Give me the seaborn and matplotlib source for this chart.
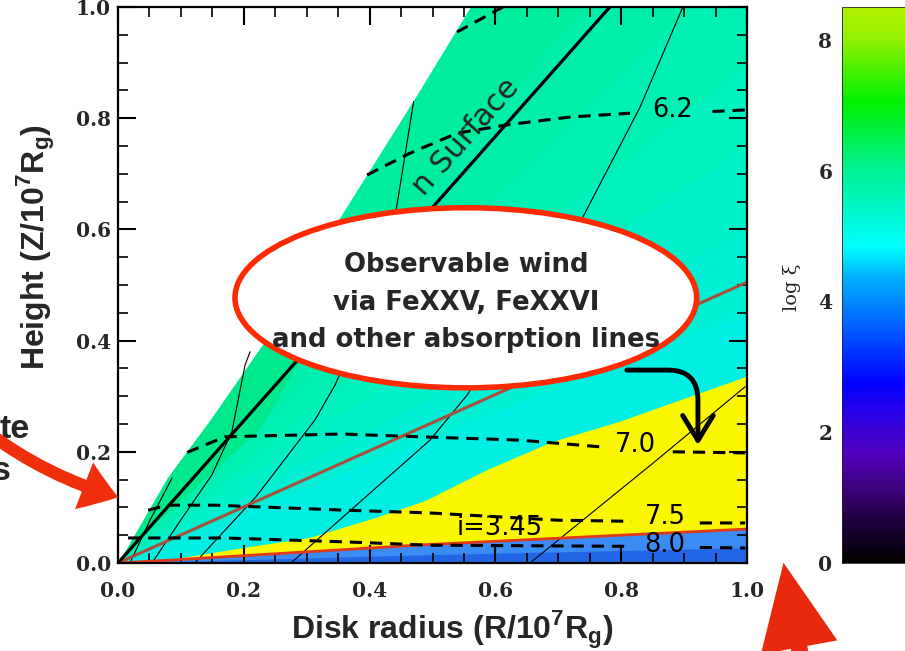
import numpy as np
import matplotlib
matplotlib.use("Agg")
import matplotlib.pyplot as plt
import seaborn as sns
from matplotlib.patches import Ellipse, FancyArrowPatch
from matplotlib.colors import LinearSegmentedColormap, Normalize
from matplotlib.ticker import MultipleLocator
import matplotlib.cm as cm

# ------------------------------------------------------------------ data
x_ticks = [0.0, 0.2, 0.4, 0.6, 0.8, 1.0]
x_tick_labels = ["0.0", "0.2", "0.4", "0.6", "0.8", "1.0"]
y_ticks = [0.0, 0.2, 0.4, 0.6, 0.8, 1.0]
y_tick_labels = ["0.0", "0.2", "0.4", "0.6", "0.8", "1.0"]
cbar_ticks = [0, 2, 4, 6, 8]
cbar_tick_labels = ["0", "2", "4", "6", "8"]
cbar_range = (0.0, 8.5)

# colour table (log xi value -> colour)
cmap_values = [0.0, 0.66, 1.16, 1.68, 2.19, 2.75, 3.76, 4.37, 4.83, 6.05, 7.07, 7.6, 8.0, 8.5]
cmap_colors = ["#000000", "#200040", "#400080", "#5000c0", "#3000e0", "#0000ff",
               "#0070ff", "#00b0ff", "#00ffff", "#00f090", "#00f000", "#50f000",
               "#90f000", "#b0f000"]

# inner boundary of the wind (white above)
edge_R = [0.0, 0.078, 0.146, 0.229, 0.353, 0.48, 0.56]
edge_Z = [0.0, 0.153, 0.257, 0.392, 0.622, 0.851, 1.0]

# angular bands of log xi (slopes Z/R of band borders)
band_slopes = [3.0, 1.35, 1.1, 0.9, 0.75, 0.6, 0.45]
band_colors = ["#00ed9e", "#00eea8", "#00efb2", "#00f0be", "#00f0ca", "#00f0d6", "#00efe2"]

# greener zone along the lower wind boundary
green_R = [0.0, 0.05, 0.226, 0.30, 0.36, 0.353, 0.229, 0.146, 0.078]
green_Z = [0.0, 0.06, 0.24, 0.383, 0.55, 0.622, 0.392, 0.257, 0.153]

# yellow highlighted region (upper border) and disk-surface red line
yellow_R = [0.08, 0.2, 0.305, 0.41, 0.49, 0.587, 0.692, 0.798, 0.905, 1.0]
yellow_Z = [0.005, 0.027, 0.045, 0.081, 0.112, 0.167, 0.218, 0.254, 0.297, 0.335]
red_R = [0.0, 0.08, 0.49, 1.0]
red_Z = [0.0, 0.005, 0.033, 0.061]

# lines
thick_R = [0.0, 0.782]
thick_Z = [0.0, 1.0]
brown_R = [0.0, 1.0]
brown_Z = [0.0, 0.505]

field_lines = [
    ([0.019, 0.05, 0.086], [0.0, 0.075, 0.153]),
    ([0.054, 0.102, 0.149, 0.181, 0.202, 0.21], [0.0, 0.081, 0.158, 0.236, 0.356, 0.38]),
    ([0.122, 0.22, 0.313, 0.345, 0.40, 0.443, 0.47], [0.0, 0.12, 0.257, 0.32, 0.46, 0.64, 0.83]),
    ([0.275, 0.496, 0.555, 0.739, 0.83, 0.898], [0.0, 0.221, 0.302, 0.622, 0.82, 1.0]),
    ([0.655, 0.851, 0.997], [0.0, 0.18, 0.317]),
]

nan = np.nan
dens_lines = [
    ([0.539, 0.612], [0.955, 1.0]),
    ([0.396, 0.464, 0.539, 0.618, 0.718, 0.814, nan, 0.945, 1.0],
     [0.698, 0.737, 0.773, 0.788, 0.802, 0.809, nan, 0.812, 0.815]),
    ([0.110, 0.170, 0.356, 0.480, 0.639, 0.766, nan, 0.882, 0.997],
     [0.199, 0.227, 0.232, 0.227, 0.221, 0.209, nan, 0.200, 0.198]),
    ([0.048, 0.078, 0.154, 0.361, 0.496, 0.699, 0.816, nan, 0.925, 0.997],
     [0.095, 0.104, 0.104, 0.095, 0.090, 0.077, 0.075, nan, 0.072, 0.072]),
    ([0.016, 0.17, 0.361, 0.496, 0.81, nan, 0.925, 0.997],
     [0.045, 0.045, 0.038, 0.032, 0.030, nan, 0.028, 0.027]),
]
dens_labels = ["6.2", "7.0", "7.5", "8.0", "i=3.45"]
dens_label_R = [0.881, 0.822, 0.870, 0.870, 0.607]
dens_label_Z = [0.815, 0.212, 0.083, 0.032, 0.063]

surface_label = "n Surface"   # visible part of the label, rest is hidden by the bubble
bubble_lines = ["Observable wind", "via FeXXV, FeXXVI", "and other absorption lines"]

# ------------------------------------------------------------------ style
sns.set_style("ticks")
plt.rcParams["font.family"] = ["DejaVu Sans"]
plt.rcParams["mathtext.fontset"] = "custom"
plt.rcParams["mathtext.bf"] = "Liberation Sans:bold"
plt.rcParams["mathtext.rm"] = "Liberation Sans:bold"

W, H = 905, 651
fig = plt.figure(figsize=(W / 100, H / 100), dpi=100)
ax = fig.add_axes([118 / W, 88 / H, 629 / W, 556 / H])
ax.set_xlim(0, 1)
ax.set_ylim(0, 1)

# colour bands (painted from the steepest down so no seams appear)
R2 = np.array([0.0, 1.0])
for s, c in zip(band_slopes, band_colors):
    ax.fill_between(R2, 0, s * R2, color=c, lw=0, zorder=1)
ax.fill(green_R, green_Z, color="#00e88c", lw=0, zorder=1.05)
# white region above the wind boundary
ax.fill_betweenx(edge_Z, 0, edge_R, color="white", lw=0, zorder=1.1)
# yellow region
ax.fill(np.r_[yellow_R, red_R[::-1]], np.r_[yellow_Z, red_Z[::-1]],
        color="#fbf700", lw=0, zorder=1.2)
# blue region under the red line
ax.fill_between(red_R, 0, red_Z, color="#3a8cf4", lw=0, zorder=1.3)
ax.fill_between(red_R, 0, np.array(red_Z) * 0.45, color="#2266e6", lw=0, zorder=1.31)

# field lines
for R, Z in field_lines:
    sns.lineplot(x=R, y=Z, sort=False, estimator=None, ax=ax, color="black",
                 lw=0.8, zorder=3)
sns.lineplot(x=brown_R, y=brown_Z, sort=False, estimator=None, ax=ax,
             color="#a9503c", lw=2.2, zorder=3.2)
sns.lineplot(x=red_R, y=red_Z, sort=False, estimator=None, ax=ax,
             color="#e2381a", lw=2.0, zorder=3.2)
sns.lineplot(x=thick_R, y=thick_Z, sort=False, estimator=None, ax=ax,
             color="black", lw=2.3, zorder=3.3)

for R, Z in dens_lines:
    ax.plot(R, Z, color="black", lw=2.2, dashes=(4, 2.6), zorder=3.5)
for t, r, z in zip(dens_labels, dens_label_R, dens_label_Z):
    ax.text(r, z, t, ha="center", va="center", fontsize=18.5, color="black", zorder=4)

ang = np.degrees(np.arctan((thick_Z[1] / thick_R[1]) * (556 / 629)))
ax.annotate(surface_label, xy=(0.656, 0.838), xytext=(-4, 4), textcoords="offset points",
            rotation=ang, rotation_mode="anchor", ha="right", va="bottom",
            fontsize=22, zorder=4)

# speech bubble
ell = Ellipse((0.553, 0.477), 0.734, 0.324, facecolor="white", edgecolor="#ff2a00",
              lw=4, zorder=6, transform=ax.transData)
ax.add_patch(ell)
for t, z in zip(bubble_lines, [0.536, 0.468, 0.401]):
    ax.text(0.553, z, t, ha="center", va="center", fontsize=18.7, fontweight="bold",
            zorder=7)
ax.annotate("", xy=(0.922, 0.212), xytext=(0.809, 0.347),
            arrowprops=dict(arrowstyle="->,head_length=0.9,head_width=0.55",
                            connectionstyle="angle,angleA=0,angleB=90,rad=30",
                            lw=3.5, color="black", shrinkA=0, shrinkB=0,
                            mutation_scale=20),
            zorder=7)

# axes styling
ax.set_xticks(x_ticks, x_tick_labels, fontsize=14.5, fontweight="bold",
              fontfamily="DejaVu Serif")
ax.set_yticks(y_ticks, y_tick_labels, fontsize=14.5, fontweight="bold",
              fontfamily="DejaVu Serif")
ax.xaxis.set_minor_locator(MultipleLocator(0.05))
ax.yaxis.set_minor_locator(MultipleLocator(0.05))
ax.tick_params(which="major", direction="in", length=13, width=1.5, top=True,
               right=True, color="black")
ax.tick_params(axis="x", which="major", pad=13)
ax.tick_params(axis="y", which="major", pad=5)
ax.tick_params(which="minor", direction="in", length=7, width=1.2, top=True,
               right=True, color="black")
for sp in ax.spines.values():
    sp.set_linewidth(1.6)
    sp.set_color("black")
    sp.set_zorder(5)
ax.set_axisbelow(False)
ax.set_xlabel("")
ax.set_ylabel("")

fig.text(452 / W, (H - 639) / H, r"Disk radius (R/10$^{\mathbf{7}}$R$_{\mathbf{g}}$)",
         ha="center", va="baseline", fontsize=23, fontweight="bold",
         fontfamily="Liberation Sans")
fig.text(36 / W, (H - 247) / H, r"Height (Z/10$^{\mathbf{7}}$R$_{\mathbf{g}}$)",
         ha="center", va="center", rotation=90, fontsize=23, fontweight="bold",
         fontfamily="Liberation Sans")

# colour bar
cvals = np.array(cmap_values)
cmap = LinearSegmentedColormap.from_list(
    "idl_rainbow", list(zip((cvals - cvals[0]) / (cvals[-1] - cvals[0]), cmap_colors)))
sm = cm.ScalarMappable(norm=Normalize(*cbar_range), cmap=cmap)
cax = fig.add_axes([842 / W, 88 / H, 0.1, 556 / H])
cbar = fig.colorbar(sm, cax=cax)
cbar.outline.set_linewidth(0.6)
cax.yaxis.set_ticks_position("left")
cbar.set_ticks(cbar_ticks)
cbar.set_ticklabels(cbar_tick_labels, fontsize=14.5, fontweight="bold",
                    fontfamily="DejaVu Serif")
cax.tick_params(length=0, pad=7)
fig.text(792 / W, (H - 287) / H, "log ξ", rotation=90, ha="center", va="center",
         fontsize=14, fontfamily="DejaVu Serif")

# fragments of surrounding slide text
fig.text(30 / W, (H - 438) / H, "te", ha="right", va="baseline", fontsize=24.5,
         fontweight="bold", fontfamily="Liberation Sans")
fig.text(11 / W, (H - 480) / H, "s", ha="right", va="baseline", fontsize=24.5,
         fontweight="bold", fontfamily="Liberation Sans")

# red slide arrows
arr1 = FancyArrowPatch((-45 / W, (H - 405) / H), (121 / W, (H - 498) / H),
                       transform=fig.transFigure,
                       arrowstyle="simple,head_length=26,head_width=36,tail_width=9",
                       connectionstyle="arc3,rad=0.12", mutation_scale=1,
                       color="#f0300c", lw=0, zorder=10)
fig.add_artist(arr1)
arr2 = FancyArrowPatch((808 / W, -45 / H), (783 / W, (H - 560) / H),
                       transform=fig.transFigure,
                       arrowstyle="simple,head_length=62,head_width=56,tail_width=12",
                       mutation_scale=1, color="#e8290e", lw=0, zorder=10)
fig.add_artist(arr2)

fig.savefig("out.png", dpi=100)
